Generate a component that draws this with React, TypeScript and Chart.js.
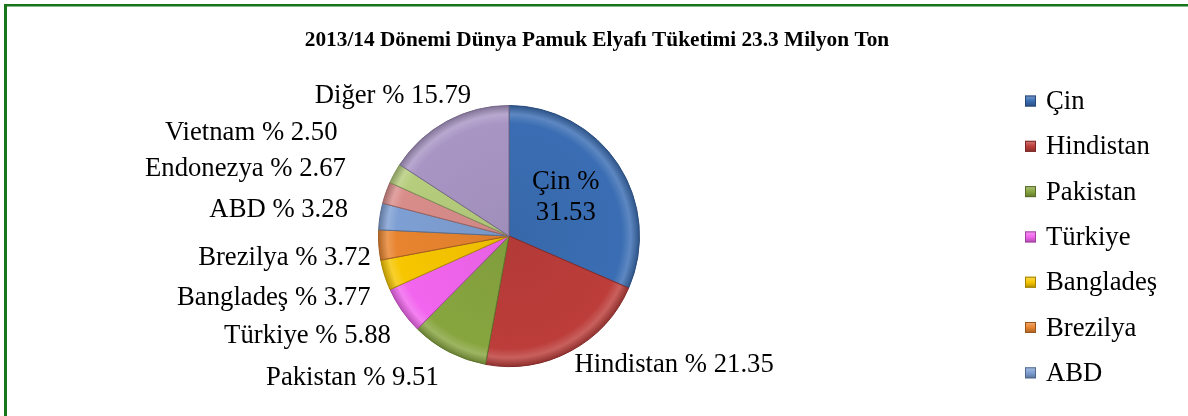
import React, { useEffect, useRef } from "react";
import { Chart, registerables } from "chart.js";

Chart.register(...registerables);

const titleText = "2013/14 Dönemi Dünya Pamuk Elyafı Tüketimi 23.3 Milyon Ton";
const countries = ["Çin", "Hindistan", "Pakistan", "Türkiye", "Bangladeş", "Brezilya", "ABD", "Endonezya", "Vietnam", "Diğer"];
const shares = [31.53, 21.35, 9.51, 5.88, 3.77, 3.72, 3.28, 2.67, 2.5, 15.79];
const sliceColors = ["#3a6db3", "#bc3d3a", "#87a53f", "#f265ee", "#f7c600", "#e8842f", "#7e9fd3", "#d98d8b", "#b6cd7d", "#a895c4"];
// the legend in the reference is cut short after this many entries
const legendShown = 7;

// label placement relative to the slice's outer-edge midpoint: mode, dx, dy
const labelPlacement: [string, number, number][] = [
  ["inside", 0, 0],
  ["left", 4, 14],
  ["right", -10, 26],
  ["right", -11, 25],
  ["right", -14, 23],
  ["right", -8, 13],
  ["right", -32, -6],
  ["right", -40, -24],
  ["right", -57, -40],
  ["center", -54, -25],
];

const SERIF = '"Liberation Serif", "Times New Roman", serif';

function mix(hex: string, target: number, amt: number) {
  const n = parseInt(hex.slice(1), 16);
  const ch = [(n >> 16) & 255, (n >> 8) & 255, n & 255].map((c) => Math.round(c + (target - c) * amt));
  return `rgb(${ch[0]},${ch[1]},${ch[2]})`;
}

const decorPlugin = {
  id: "decor",
  beforeDraw(chart: any) {
    const ctx = chart.ctx;
    ctx.save();
    ctx.fillStyle = "#ffffff";
    ctx.fillRect(0, 0, chart.width, chart.height);
    ctx.fillStyle = "#17761b";
    ctx.fillRect(4, 4, chart.width, 2.5);
    ctx.fillRect(4, 4, 3, chart.height);
    ctx.fillStyle = "#000";
    ctx.font = `bold 21.3px ${SERIF}`;
    ctx.textAlign = "center";
    ctx.textBaseline = "middle";
    ctx.fillText(titleText, 597, 40);
    // legend
    ctx.font = `26.7px ${SERIF}`;
    ctx.textAlign = "left";
    countries.slice(0, legendShown).forEach((name, i) => {
      const y = 101 + i * 45.3;
      const c = sliceColors[i];
      const g = ctx.createLinearGradient(0, y - 6, 0, y + 6);
      g.addColorStop(0, mix(c, 255, 0.35));
      g.addColorStop(0.5, c);
      g.addColorStop(1, mix(c, 0, 0.3));
      ctx.fillStyle = g;
      ctx.fillRect(1025, y - 5.5, 11, 11);
      ctx.strokeStyle = mix(c, 0, 0.35);
      ctx.lineWidth = 1;
      ctx.strokeRect(1025.5, y - 5, 10, 10);
      ctx.fillStyle = "#000";
      ctx.fillText(name, 1046, y + 1);
    });
    ctx.restore();
  },
  afterDatasetsDraw(chart: any) {
    const ctx = chart.ctx;
    const meta = chart.getDatasetMeta(0);
    ctx.save();
    ctx.fillStyle = "#000";
    ctx.font = `26.7px ${SERIF}`;
    ctx.textBaseline = "middle";
    meta.data.forEach((arc: any, i: number) => {
      const p = arc.getProps(["x", "y", "startAngle", "endAngle", "outerRadius"], true);
      const mid = (p.startAngle + p.endAngle) / 2;
      const val = shares[i].toFixed(2);
      const [mode, dx, dy] = labelPlacement[i];
      if (mode === "inside") {
        const r = p.outerRadius * 0.52;
        const x = p.x + Math.cos(mid) * r;
        const y = p.y + Math.sin(mid) * r;
        ctx.textAlign = "center";
        ctx.fillText(`${countries[i]} %`, x, y - 17);
        ctx.fillText(val, x, y + 14);
        return;
      }
      const ex = p.x + Math.cos(mid) * p.outerRadius;
      const ey = p.y + Math.sin(mid) * p.outerRadius;
      ctx.textAlign = mode;
      ctx.fillText(`${countries[i]} % ${val}`, ex + dx, ey + dy);
    });
    ctx.restore();
  },
};

export default function App() {
  const ref = useRef<HTMLCanvasElement>(null);
  useEffect(() => {
    if (!ref.current) return;
    const chart = new Chart(ref.current, {
      type: "pie",
      data: {
        labels: countries,
        datasets: [
          {
            data: shares,
            backgroundColor: (c: any) => {
              const base = sliceColors[c.dataIndex] || "#888888";
              const a = c.chart.chartArea;
              if (!a) return base;
              const cx = (a.left + a.right) / 2;
              const cy = (a.top + a.bottom) / 2;
              const r = Math.min(a.right - a.left, a.bottom - a.top) / 2;
              const g = c.chart.ctx.createRadialGradient(cx, cy, 0, cx, cy, r);
              g.addColorStop(0, mix(base, 0, 0.05));
              g.addColorStop(0.86, base);
              g.addColorStop(0.93, mix(base, 255, 0.18));
              g.addColorStop(1, mix(base, 0, 0.25));
              return g;
            },
            borderColor: sliceColors.map((c) => mix(c, 0, 0.3)),
            borderWidth: 1,
            hoverOffset: 0,
            offset: 0,
          },
        ],
      },
      options: {
        responsive: false,
        maintainAspectRatio: false,
        devicePixelRatio: 1,
        animation: false,
        events: [],
        layout: { padding: { left: 378, right: 548, top: 105, bottom: 49 } },
        plugins: {
          legend: { display: false },
          title: { display: false },
          tooltip: { enabled: false },
        },
      },
      plugins: [decorPlugin],
    });
    return () => chart.destroy();
  }, []);
  return (
    <div style={{ position: "absolute", left: 0, top: 0, width: 1188, height: 416, overflow: "hidden" }}>
      <canvas ref={ref} width={1188} height={416} style={{ display: "block" }} />
    </div>
  );
}
